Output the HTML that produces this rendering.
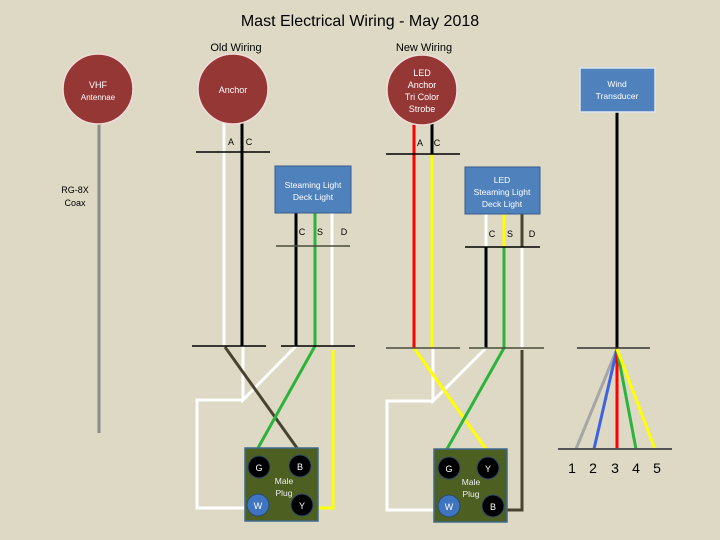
<!DOCTYPE html>
<html><head><meta charset="utf-8"><style>
html,body{margin:0;padding:0;background:#ddd9c4;}
svg{display:block;font-family:"Liberation Sans",sans-serif;}
</style></head><body>
<svg width="720" height="540" viewBox="0 0 720 540" xmlns="http://www.w3.org/2000/svg">
<rect width="720" height="540" fill="#ddd9c4"/>
<text x="360" y="26" font-size="16" text-anchor="middle" fill="#000">Mast Electrical Wiring - May 2018</text>
<text x="236" y="51" font-size="11" text-anchor="middle">Old Wiring</text>
<text x="424" y="51" font-size="11" text-anchor="middle">New Wiring</text>

<!-- VHF -->
<line x1="99" y1="120" x2="99" y2="433" stroke="#8c8c8c" stroke-width="3"/>
<circle cx="98" cy="89" r="35" fill="#953735" stroke="#f2dcdb" stroke-width="1.5"/>
<text x="98" y="88" font-size="9" fill="#fff" text-anchor="middle">VHF</text>
<text x="98" y="100" font-size="8" fill="#fff" text-anchor="middle">Antennae</text>
<text x="75" y="193" font-size="9" text-anchor="middle">RG-8X</text>
<text x="75" y="206" font-size="9" text-anchor="middle">Coax</text>

<!-- Old wiring -->
<line x1="224" y1="120" x2="224" y2="346" stroke="#fff" stroke-width="3"/>
<line x1="242" y1="120" x2="242" y2="346" stroke="#000" stroke-width="3"/>
<line x1="196" y1="152" x2="270" y2="152" stroke="#000" stroke-width="1.5"/>
<text x="231" y="145" font-size="9" text-anchor="middle">A</text>
<text x="249" y="145" font-size="9" text-anchor="middle">C</text>
<circle cx="233" cy="89" r="35" fill="#953735" stroke="#f2dcdb" stroke-width="1.5"/>
<text x="233" y="93" font-size="9" fill="#fff" text-anchor="middle">Anchor</text>

<line x1="296" y1="213" x2="296" y2="346" stroke="#000" stroke-width="3"/>
<line x1="315" y1="213" x2="315" y2="346" stroke="#2db33c" stroke-width="3"/>
<line x1="332" y1="213" x2="332" y2="346" stroke="#fff" stroke-width="3"/>
<line x1="276" y1="246" x2="350" y2="246" stroke="#4a4a3a" stroke-width="1.5"/>
<text x="302" y="235" font-size="9" text-anchor="middle">C</text>
<text x="320" y="235" font-size="9" text-anchor="middle">S</text>
<text x="344" y="235" font-size="9" text-anchor="middle">D</text>
<rect x="275" y="166" width="76" height="47" fill="#4f81bd" stroke="#385d8a" stroke-width="1"/>
<text x="313" y="188" font-size="8.5" fill="#fff" text-anchor="middle">Steaming Light</text>
<text x="313" y="200" font-size="8.5" fill="#fff" text-anchor="middle">Deck Light</text>

<polyline points="296,346 243,400 243,346" fill="none" stroke="#fff" stroke-width="3"/>
<polyline points="243,400 197,400 197,508 245,508" fill="none" stroke="#fff" stroke-width="3"/>
<line x1="225" y1="347" x2="297" y2="448" stroke="#4a4230" stroke-width="3"/>
<line x1="315" y1="346" x2="258" y2="448" stroke="#2db33c" stroke-width="3"/>
<polyline points="333,350 333,508 318,508" fill="none" stroke="#ffff00" stroke-width="3"/>
<line x1="192" y1="346" x2="266" y2="346" stroke="#000" stroke-width="1.5"/>
<line x1="281" y1="346" x2="355" y2="346" stroke="#000" stroke-width="1.5"/>
<rect x="245" y="448" width="73" height="73" fill="#4e5f22" stroke="#3f6a8e" stroke-width="1.5"/>
<circle cx="259" cy="467" r="11" fill="#000" stroke="#2b4a6a"/><text x="259" y="471" font-size="9" fill="#fff" text-anchor="middle">G</text>
<circle cx="300" cy="466" r="11" fill="#000" stroke="#2b4a6a"/><text x="300" y="470" font-size="9" fill="#fff" text-anchor="middle">B</text>
<circle cx="258" cy="505" r="11" fill="#3f74c0" stroke="#2b4a6a"/><text x="258" y="509" font-size="9" fill="#fff" text-anchor="middle">W</text>
<circle cx="302" cy="505" r="11" fill="#000" stroke="#2b4a6a"/><text x="302" y="509" font-size="9" fill="#fff" text-anchor="middle">Y</text>
<text x="284" y="484" font-size="8.5" fill="#eee" text-anchor="middle">Male</text>
<text x="284" y="496" font-size="8.5" fill="#eee" text-anchor="middle">Plug</text>

<!-- New wiring -->
<line x1="414" y1="120" x2="414" y2="348" stroke="#ff0000" stroke-width="3"/>
<line x1="432" y1="120" x2="432" y2="154" stroke="#000" stroke-width="3"/>
<line x1="432" y1="154" x2="432" y2="348" stroke="#ffff00" stroke-width="3"/>
<line x1="386" y1="154" x2="460" y2="154" stroke="#000" stroke-width="1.5"/>
<text x="420" y="146" font-size="9" text-anchor="middle">A</text>
<text x="437" y="146" font-size="9" text-anchor="middle">C</text>
<circle cx="422" cy="90" r="35" fill="#953735" stroke="#f2dcdb" stroke-width="1.5"/>
<text x="422" y="76" font-size="9" fill="#fff" text-anchor="middle">LED</text>
<text x="422" y="88" font-size="9" fill="#fff" text-anchor="middle">Anchor</text>
<text x="422" y="100" font-size="9" fill="#fff" text-anchor="middle">Tri Color</text>
<text x="422" y="112" font-size="9" fill="#fff" text-anchor="middle">Strobe</text>

<line x1="486" y1="214" x2="486" y2="247" stroke="#fff" stroke-width="3"/>
<line x1="486" y1="247" x2="486" y2="348" stroke="#000" stroke-width="3"/>
<line x1="504" y1="214" x2="504" y2="247" stroke="#ffff00" stroke-width="3"/>
<line x1="504" y1="247" x2="504" y2="348" stroke="#2db33c" stroke-width="3"/>
<line x1="522" y1="214" x2="522" y2="247" stroke="#4a4230" stroke-width="3"/>
<line x1="522" y1="247" x2="522" y2="348" stroke="#fff" stroke-width="3"/>
<line x1="465" y1="247" x2="540" y2="247" stroke="#000" stroke-width="1.5"/>
<text x="492" y="237" font-size="9" text-anchor="middle">C</text>
<text x="510" y="237" font-size="9" text-anchor="middle">S</text>
<text x="532" y="237" font-size="9" text-anchor="middle">D</text>
<rect x="465" y="167" width="75" height="47" fill="#4f81bd" stroke="#385d8a" stroke-width="1"/>
<text x="502" y="183" font-size="8.5" fill="#fff" text-anchor="middle">LED</text>
<text x="502" y="195" font-size="8.5" fill="#fff" text-anchor="middle">Steaming Light</text>
<text x="502" y="207" font-size="8.5" fill="#fff" text-anchor="middle">Deck Light</text>

<polyline points="486,348 433,401 433,348" fill="none" stroke="#fff" stroke-width="3"/>
<polyline points="433,401 387,401 387,510 434,510" fill="none" stroke="#fff" stroke-width="3"/>
<line x1="414" y1="348" x2="486" y2="449" stroke="#ffff00" stroke-width="3"/>
<line x1="504" y1="348" x2="447" y2="449" stroke="#2db33c" stroke-width="3"/>
<polyline points="522,350 522,510 507,510" fill="none" stroke="#4a4230" stroke-width="3"/>
<line x1="386" y1="348" x2="460" y2="348" stroke="#4a4a3a" stroke-width="1.5"/>
<line x1="469" y1="348" x2="544" y2="348" stroke="#4a4a3a" stroke-width="1.5"/>
<rect x="434" y="449" width="73" height="73" fill="#4e5f22" stroke="#3f6a8e" stroke-width="1.5"/>
<circle cx="449" cy="468" r="11" fill="#000" stroke="#2b4a6a"/><text x="449" y="472" font-size="9" fill="#fff" text-anchor="middle">G</text>
<circle cx="488" cy="468" r="11" fill="#000" stroke="#2b4a6a"/><text x="488" y="472" font-size="9" fill="#fff" text-anchor="middle">Y</text>
<circle cx="449" cy="506" r="11" fill="#3f74c0" stroke="#2b4a6a"/><text x="449" y="510" font-size="9" fill="#fff" text-anchor="middle">W</text>
<circle cx="493" cy="506" r="11" fill="#000" stroke="#2b4a6a"/><text x="493" y="510" font-size="9" fill="#fff" text-anchor="middle">B</text>
<text x="471" y="485" font-size="8.5" fill="#eee" text-anchor="middle">Male</text>
<text x="471" y="497" font-size="8.5" fill="#eee" text-anchor="middle">Plug</text>

<!-- Wind -->
<line x1="617" y1="112" x2="617" y2="349" stroke="#000" stroke-width="3"/>
<line x1="577" y1="348" x2="650" y2="348" stroke="#333" stroke-width="1.5"/>
<line x1="617" y1="349" x2="576" y2="449" stroke="#a6a6a6" stroke-width="3"/>
<line x1="617" y1="349" x2="594" y2="449" stroke="#3c64e0" stroke-width="3"/>
<line x1="617" y1="349" x2="617" y2="449" stroke="#ff0000" stroke-width="3"/>
<line x1="617" y1="349" x2="636" y2="449" stroke="#2db33c" stroke-width="3"/>
<line x1="617" y1="349" x2="655" y2="449" stroke="#ffff00" stroke-width="3"/>
<line x1="558" y1="449" x2="672" y2="449" stroke="#555" stroke-width="2"/>
<rect x="580" y="68" width="75" height="44" fill="#4f81bd" stroke="#dbe5f1" stroke-width="1.5"/>
<text x="617" y="87" font-size="8.5" fill="#fff" text-anchor="middle">Wind</text>
<text x="617" y="99" font-size="8.5" fill="#fff" text-anchor="middle">Transducer</text>
<g font-size="14" text-anchor="middle">
<text x="572" y="473">1</text><text x="593" y="473">2</text><text x="615" y="473">3</text><text x="636" y="473">4</text><text x="657" y="473">5</text>
</g>
</svg>
</body></html>
